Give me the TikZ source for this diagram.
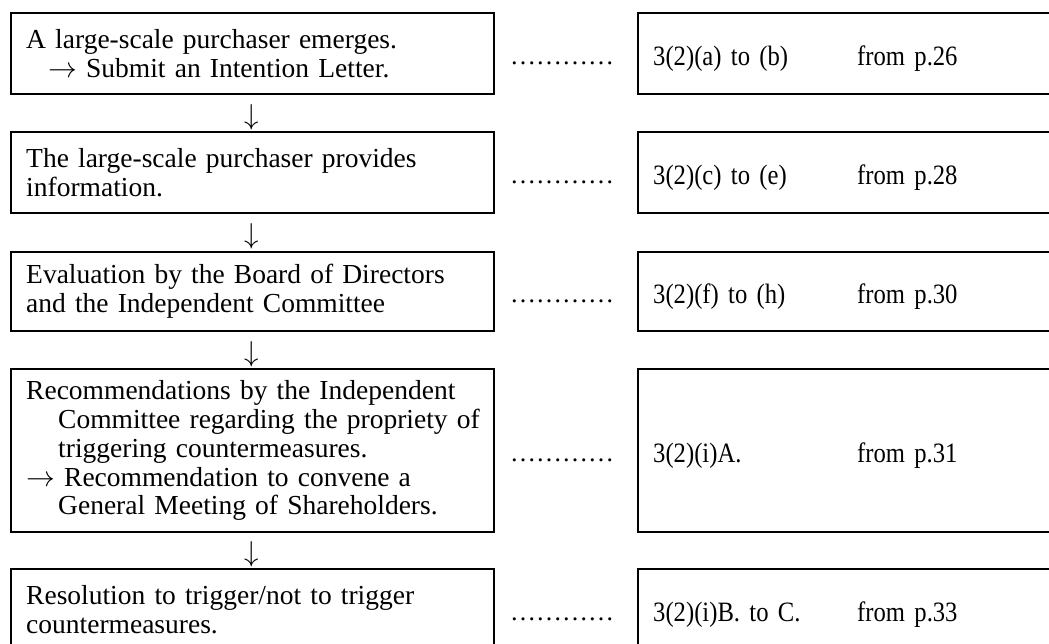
\documentclass[tikz,border=0pt]{standalone}
\usepackage{fontspec}
\setmainfont{Liberation Serif}
\newfontfamily\refnarrow[FakeStretch=0.88]{Liberation Serif}
\newcommand{\refline}[2]{\makebox[102pt][l]{#1}#2}
\newcommand{\rarr}{\(\rightarrow\)}
\begin{document}
\begin{tikzpicture}[x=0.5pt,y=-0.5pt,
  stage/.style={draw,line width=1.2pt,anchor=north west,inner xsep=7.5pt,inner ysep=0pt,
    text width=226.5pt,align=left,font=\fontsize{13.75}{14.4}\selectfont},
  refbox/.style={draw,line width=1.2pt,anchor=north west,inner xsep=7.5pt,inner ysep=0pt,
    text width=205pt,align=left,text height=12pt,text depth=0pt,font=\fontsize{14}{14}\refnarrow},
  leader/.style={inner sep=0pt,text height=12pt,text depth=0pt,font=\fontsize{13}{14}\selectfont},
  down/.style={inner sep=0pt,font=\fontsize{14}{14}\selectfont}]
  \useasboundingbox (0,0) rectangle (1049,643);
  \clip (0,0) rectangle (1049,643);
  \node[stage,minimum height=40.25pt] (s1) at (10,12) {A large-scale purchaser emerges.\\\hspace*{11pt}\rarr{} Submit an Intention Letter.};
  \node[stage,minimum height=40.25pt] (s2) at (10,131) {The large-scale purchaser provides\\information.};
  \node[stage,minimum height=39.75pt] (s3) at (10,250.5) {Evaluation by the Board of Directors\\and the Independent Committee};
  \node[stage,minimum height=81.5pt] (s4) at (10,368) {Recommendations by the Independent\\\hspace*{16pt}\mbox{Committee regarding the propriety of}\\\hspace*{16pt}triggering countermeasures.\\\rarr{} Recommendation to convene a\\\hspace*{16pt}\mbox{General Meeting of Shareholders.}};
  \node[stage,minimum height=40.25pt] (s5) at (10,568) {Resolution to trigger/not to trigger\\countermeasures.};
  \node[refbox,minimum height=40.25pt] (r1) at (637,12) {\refline{3(2)(a) to (b)}{from p.26}};
  \node[refbox,minimum height=40.25pt] (r2) at (637,131) {\refline{3(2)(c) to (e)}{from p.28}};
  \node[refbox,minimum height=39.75pt] (r3) at (637,250.5) {\refline{3(2)(f) to (h)}{from p.30}};
  \node[refbox,minimum height=81.5pt] (r4) at (637,368) {\refline{3(2)(i)A.}{from p.31}};
  \node[refbox,minimum height=40.25pt] (r5) at (637,568) {\refline{3(2)(i)B. to C.}{from p.33}};
  \node[leader] (l1) at (562,52.25) {…………};
  \node[leader] (l2) at (562,171.25) {…………};
  \node[leader] (l3) at (562,290.4) {…………};
  \node[leader] (l4) at (562,449.5) {…………};
  \node[leader] (l5) at (562,608.25) {…………};
  \node[down] (a1) at (251.5,117) {\(\downarrow\)};
  \node[down] (a2) at (251.5,236) {\(\downarrow\)};
  \node[down] (a3) at (251.5,354) {\(\downarrow\)};
  \node[down] (a4) at (251.5,554) {\(\downarrow\)};
\end{tikzpicture}
\end{document}
